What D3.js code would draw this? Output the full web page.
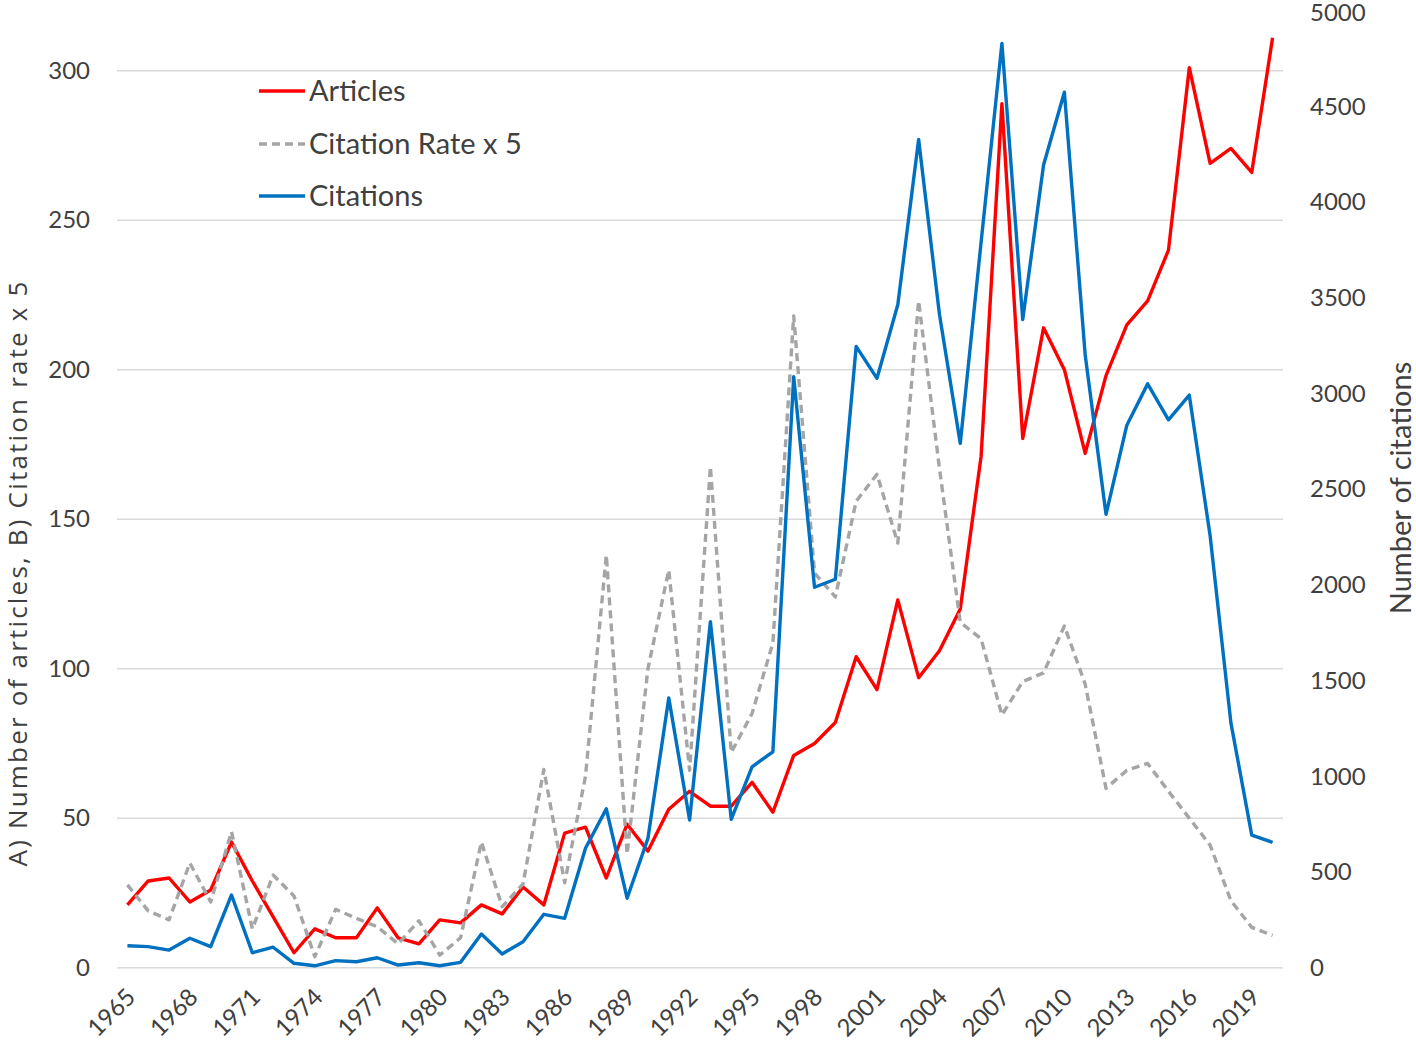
<!DOCTYPE html>
<html>
<head>
<meta charset="utf-8">
<script src="https://cdn.jsdelivr.net/npm/d3@7"></script>
<style>
  html, body { margin: 0; padding: 0; background: #fff; }
  svg { display: block; }
  text { font-family: Lato, "Open Sans", sans-serif; fill: #404040; }
</style>
</head>
<body>
<svg id="chart" width="1416" height="1054"></svg>
<script>
const years = d3.range(1965, 2021);
const articles = [21,29,30,22,26,42,29,17,5,13,10,10,20,10,8,16,15,21,18,27,21,45,47,30,48,39,53,59,54,54,62,52,71,75,82,104,93,123,97,106,120,171,289,177,214,200,172,198,215,223,240,301,269,274,266,311];
const citationRate5 = [27.7,19,16,35,22,45.5,13,31,24,3.7,19.5,16.5,13.7,8,15.7,4.2,10,42,20.4,28,66.3,28.4,64,138,38,100,133,66,167.6,72,85,108.6,218,132,124,156,165,142,223,167,115.5,110,84.5,95.7,98.6,114.3,94.8,60,66,68.3,59,50,41,22.4,13.5,10.8];
const citations = [115,110,92,154,110,380,78,107,23,10,37,31,52,14,26,10,28,176,72,136,279,258,624,830,363,676,1410,772,1808,775,1050,1128,3088,1988,2030,3247,3080,3464,4328,3415,2740,3790,4830,3387,4195,4575,3202,2369,2835,3051,2863,2992,2257,1278,693,655];
const leftTicks = [0,50,100,150,200,250,300];
const rightTicks = [0,500,1000,1500,2000,2500,3000,3500,4000,4500,5000];
const xTickYears = years.filter((y, i) => i % 3 === 0);
const seriesNames = ["Articles", "Citation Rate x 5", "Citations"];

const svg = d3.select("#chart");
const L = 117, R = 1283, T = 10.9, B = 967.7;

const x = d3.scalePoint().domain(years).range([L, R]).padding(0.5);
const yL = d3.scaleLinear().domain([0, 320]).range([B, T]);
const yR = d3.scaleLinear().domain([0, 5000]).range([B, T]);

// gridlines
svg.append("g").selectAll("line").data(leftTicks).join("line")
  .attr("x1", L).attr("x2", R)
  .attr("y1", d => yL(d)).attr("y2", d => yL(d))
  .attr("stroke", "#d9d9d9").attr("stroke-width", 1.5);

const tickFont = "Lato, 'Open Sans', sans-serif";

// left axis labels
const leftAxis = d3.axisLeft(yL).tickValues(leftTicks).tickSize(0).tickPadding(0).tickFormat(d3.format("d"));
const gL = svg.append("g").attr("transform", `translate(90,0)`).call(leftAxis);
gL.select(".domain").remove();
gL.selectAll("text").attr("font-size", 24).attr("fill", "#404040").style("font-family", tickFont);

// right axis labels
const rightAxis = d3.axisRight(yR).tickValues(rightTicks).tickSize(0).tickPadding(0).tickFormat(d3.format("d"));
const gR = svg.append("g").attr("transform", `translate(1310,0)`).call(rightAxis);
gR.select(".domain").remove();
gR.selectAll("text").attr("font-size", 24).attr("fill", "#404040").style("font-family", tickFont);
gR.selectAll(".tick").filter(d => d === 5000).select("text").attr("dy", "0.4em");

// x axis labels
const xAxis = d3.axisBottom(x).tickValues(xTickYears).tickSize(0).tickPadding(0);
const gX = svg.append("g").attr("transform", `translate(0,${B})`).call(xAxis);
gX.select(".domain").remove();
gX.selectAll("text")
  .attr("font-size", 24).attr("fill", "#404040")
  .style("font-family", tickFont)
  .attr("text-anchor", "end")
  .attr("dy", "0")
  .attr("y", 0)
  .attr("transform", "translate(9,31) rotate(-45)");

// lines
const lineL = d3.line().x((d, i) => x(years[i])).y(d => yL(d));
const lineR = d3.line().x((d, i) => x(years[i])).y(d => yR(d));

svg.append("path").datum(articles).attr("d", lineL)
  .attr("fill", "none").attr("stroke", "#ff0000").attr("stroke-width", 3.4)
  .attr("stroke-linejoin", "round");
svg.append("path").datum(citationRate5).attr("d", lineL)
  .attr("fill", "none").attr("stroke", "#a5a5a5").attr("stroke-width", 3.4)
  .attr("stroke-dasharray", "8,5").attr("stroke-linejoin", "round");
svg.append("path").datum(citations).attr("d", lineR)
  .attr("fill", "none").attr("stroke", "#0070c0").attr("stroke-width", 3.4)
  .attr("stroke-linejoin", "round");

// legend
const legendColors = ["#ff0000", "#a5a5a5", "#0070c0"];
const legendDash = [null, "8,5", null];
const legendY = [91, 144, 196];
const lg = svg.append("g");
seriesNames.forEach((name, i) => {
  lg.append("line").attr("x1", 259).attr("x2", 305)
    .attr("y1", legendY[i]).attr("y2", legendY[i])
    .attr("stroke", legendColors[i]).attr("stroke-width", 3.4)
    .attr("stroke-dasharray", legendDash[i]);
  lg.append("text").attr("x", 309).attr("y", legendY[i]).attr("dy", "0.36em")
    .attr("font-size", 29).text(name);
});

// axis titles
svg.append("text")
  .attr("transform", "translate(27,574) rotate(-90)")
  .attr("text-anchor", "middle").attr("font-size", 26)
  .attr("textLength", 585).attr("lengthAdjust", "spacing")
  .style("font-family", "'Open Sans', Lato, sans-serif")
  .text("A) Number of articles, B) Citation rate x 5");
svg.append("text")
  .attr("transform", "translate(1411,488) rotate(-90)")
  .attr("text-anchor", "middle").attr("font-size", 29)
  .style("font-family", "Lato, 'Open Sans', sans-serif")
  .text("Number of citations");
</script>
</body>
</html>
